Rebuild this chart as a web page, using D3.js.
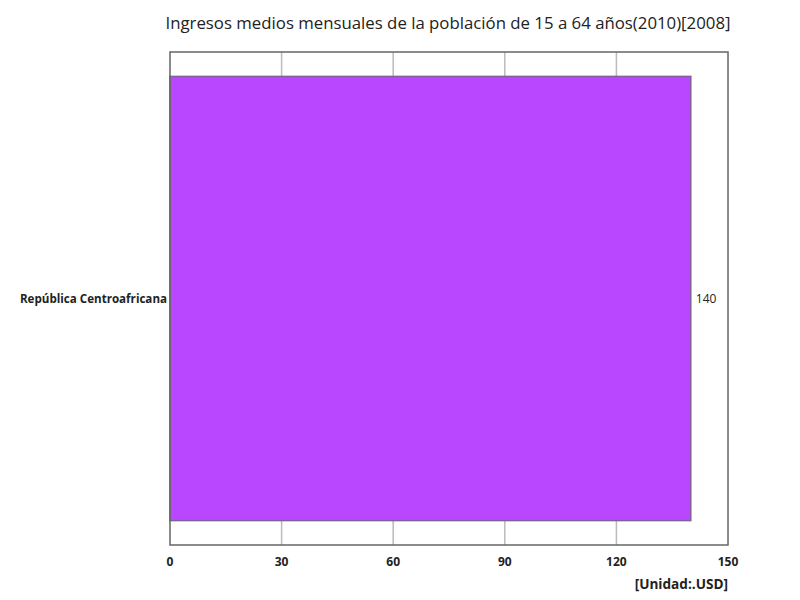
<!DOCTYPE html>
<html><head><meta charset="utf-8">
<script src="https://cdn.jsdelivr.net/npm/d3@7"></script>
<style>body{margin:0;background:#fff;font-family:"Open Sans","Noto Sans",sans-serif;}</style>
</head><body>
<svg id="c" width="800" height="600"></svg>
<script>
const categories = ["República Centroafricana"];
const values = [140];
const ticks = [0, 30, 60, 90, 120, 150];
const title = "Ingresos medios mensuales de la población de 15 a 64 años(2010)[2008]";
const unit = "[Unidad:.USD]";

const svg = d3.select("#c");
const m = {l:170, r:728, t:52, b:545};
const x = d3.scaleLinear().domain([0,150]).range([m.l, m.r]);
const y = d3.scaleBand().domain(categories).range([m.t, m.b]).paddingInner(0.099).paddingOuter(0.0495);

svg.append("text").attr("x", 448).attr("y", 29).attr("text-anchor","middle")
  .attr("font-size", 16.8).attr("fill","#222").text(title);

svg.append("g").selectAll("line").data(ticks.slice(1,-1)).join("line")
  .attr("x1", d=>x(d)).attr("x2", d=>x(d)).attr("y1", m.t).attr("y2", m.b)
  .attr("stroke","#bbb").attr("stroke-width",1.5);

svg.append("g").selectAll("rect").data(values).join("rect")
  .attr("x", x(0)).attr("y", (d,i)=>y(categories[i]))
  .attr("width", d=>x(d)-x(0)).attr("height", y.bandwidth())
  .attr("fill","#b847ff").attr("stroke","#80609a").attr("stroke-width",1.5);

svg.append("rect").attr("x", m.l).attr("y", m.t).attr("width", m.r-m.l).attr("height", m.b-m.t)
  .attr("fill","none").attr("stroke","#666").attr("stroke-width",1.5);

svg.append("g").selectAll("text").data(ticks).join("text")
  .attr("x", d=>x(d)).attr("y", 566).attr("text-anchor","middle")
  .attr("font-size", 12).attr("font-weight","bold").attr("fill","#222").text(d=>d);

svg.append("g").selectAll("text").data(categories).join("text")
  .attr("x", m.l-3).attr("y", d=>y(d)+y.bandwidth()/2+4).attr("text-anchor","end")
  .attr("font-size", 11.6).attr("font-weight","bold").attr("fill","#222").text(d=>d);

svg.append("g").selectAll("text").data(values).join("text")
  .attr("x", d=>x(d)+5).attr("y", (d,i)=>y(categories[i])+y.bandwidth()/2+4)
  .attr("font-size", 12).attr("fill","#222").text(d=>d);

svg.append("text").attr("x", m.r).attr("y", 589).attr("text-anchor","end")
  .attr("font-size", 13.6).attr("font-weight","bold").attr("fill","#222").text(unit);
</script>
</body></html>
